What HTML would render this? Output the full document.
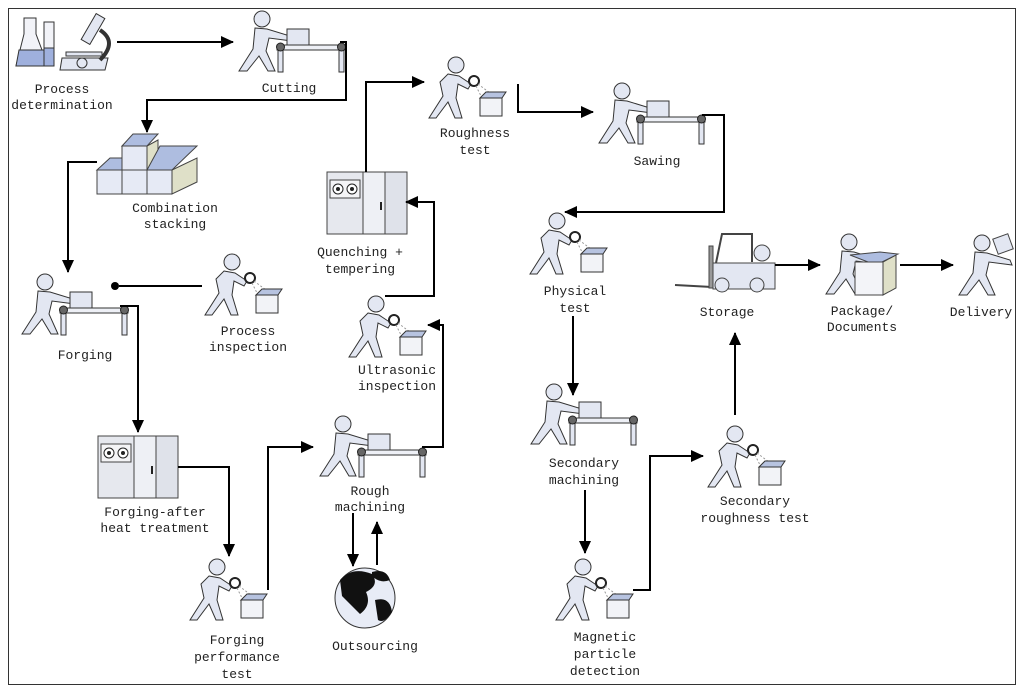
<!DOCTYPE html>
<html><head><meta charset="utf-8"><style>
html,body{margin:0;padding:0;background:#fff}
svg{display:block}
text{font-family:"Liberation Mono","Noto Serif CJK SC",monospace;font-size:13px;fill:#222;text-anchor:middle}
</style></head><body>
<svg width="1024" height="693" viewBox="0 0 1024 693" xmlns="http://www.w3.org/2000/svg">
<defs>
<marker id="a" markerWidth="13" markerHeight="12" refX="12" refY="6" orient="auto" markerUnits="userSpaceOnUse">
<path d="M0,0 L13,6 L0,12 z" fill="#000"/></marker>
<g id="person" fill="#e3e7f2" stroke="#333" stroke-width="1">
<circle cx="27" cy="8" r="8"/>
<polygon points="20,17 32,18 55,25 57,30 34,27 31,40 40,60 33,60 24,45 12,60 4,60 18,38"/>
</g>
<g id="mach">
<use href="#person"/>
<rect x="52" y="18" width="22" height="16" fill="#e3e7f2" stroke="#333"/>
<rect x="42" y="34" width="68" height="5" fill="#eef0f6" stroke="#333"/>
<rect x="43" y="38" width="5" height="23" fill="#e3e7f2" stroke="#333"/>
<rect x="104" y="38" width="5" height="23" fill="#e3e7f2" stroke="#333"/>
<circle cx="45.5" cy="36" r="4" fill="#666" stroke="#222"/>
<circle cx="106.5" cy="36" r="4" fill="#666" stroke="#222"/>
</g>
<g id="insp">
<circle cx="30" cy="9" r="8" fill="#e3e7f2" stroke="#333"/>
<polygon points="22,18 33,20 45,28 42,33 32,28 30,42 36,62 29,62 22,46 10,62 3,62 17,40 14,26" fill="#e3e7f2" stroke="#333"/>
<circle cx="48" cy="25" r="5" fill="#fff" stroke="#222" stroke-width="2"/>
<path d="M52,28 L68,40 M50,30 L56,42" stroke="#999" stroke-dasharray="2,2" fill="none"/>
<rect x="54" y="42" width="22" height="18" fill="#f2f3f7" stroke="#333"/>
<polygon points="54,42 60,36 80,36 76,42" fill="#b7c3e0" stroke="#333"/>
</g>
<g id="furn">
<rect x="0" y="0" width="80" height="62" fill="#e6e8ee" stroke="#444"/>
<rect x="3" y="8" width="30" height="18" fill="#f4f4f6" stroke="#444"/>
<circle cx="11" cy="17" r="5" fill="#fff" stroke="#222"/><circle cx="11" cy="17" r="2" fill="#222"/>
<circle cx="25" cy="17" r="5" fill="#fff" stroke="#222"/><circle cx="25" cy="17" r="2" fill="#222"/>
<rect x="36" y="0" width="22" height="62" fill="#eef0f5" stroke="#444"/>
<rect x="58" y="0" width="22" height="62" fill="#dfe2ea" stroke="#444"/>
<line x1="54" y1="30" x2="54" y2="38" stroke="#222" stroke-width="2"/>
</g>
</defs>

<rect x="8.5" y="8.5" width="1007" height="676" fill="none" stroke="#333"/>

<g stroke="#333" fill="#e3e7f2">
<path d="M24,18 L36,18 L36,34 L48,66 L16,66 L24,34 z" fill="#f2f3f8"/>
<path d="M19,50 L44,50 L48,66 L16,66 z" fill="#9fb0dd"/>
<rect x="44" y="22" width="10" height="44" fill="#f2f3f8"/>
<rect x="44" y="48" width="10" height="18" fill="#9fb0dd"/>
<polygon points="62,58 108,58 105,70 60,70" />
<rect x="66" y="52" width="36" height="4"/>
<circle cx="82" cy="63" r="5"/>
<path d="M100,60 Q118,42 100,30" fill="none" stroke-width="4"/>
<rect x="88" y="14" width="10" height="30" transform="rotate(30 93 29)"/>
</g>
<text x="62" y="93">Process</text><text x="62" y="109">determination</text>

<use href="#mach" x="235" y="11"/>
<text x="289" y="92">Cutting</text>

<g stroke="#444" fill="#e6eaf5">
<rect x="97" y="170" width="25" height="24"/><rect x="122" y="170" width="25" height="24"/><rect x="147" y="170" width="25" height="24"/>
<polygon points="172,170 197,158 197,182 172,194" fill="#dfe0c8"/>
<rect x="122" y="146" width="25" height="24"/>
<polygon points="147,146 158,140 158,164 147,170" fill="#dfe0c8"/>
<polygon points="122,146 133,134 158,134 147,146" fill="#aebde0"/>
<polygon points="97,170 110,158 122,158 122,170" fill="#aebde0"/>
<polygon points="147,170 160,146 197,146 172,170" fill="#aebde0"/>
</g>
<text x="175" y="212">Combination</text><text x="175" y="228">stacking</text>

<use href="#mach" x="18" y="274"/>
<text x="85" y="359">Forging</text>
<use href="#insp" x="202" y="253"/>
<text x="248" y="335">Process</text><text x="248" y="351">inspection</text>
<circle cx="115" cy="286" r="4" fill="#000"/>

<use href="#furn" x="98" y="436"/>
<text x="155" y="516">Forging-after</text><text x="155" y="532">heat treatment</text>

<use href="#insp" x="187" y="558"/>
<text x="237" y="644">Forging</text><text x="237" y="661">performance</text><text x="237" y="678">test</text>

<use href="#mach" x="316" y="416"/>
<text x="370" y="495">Rough</text><text x="370" y="511">machining</text>

<circle cx="365" cy="598" r="30" fill="#e8ecf6" stroke="#333"/>
<path d="M340,580 Q352,566 372,574 Q380,585 366,592 Q372,605 360,614 Q348,602 342,596 z M375,600 Q390,596 392,612 Q384,624 378,620 z M372,572 Q386,568 390,580 Q380,584 372,576z" fill="#111"/>
<text x="375" y="650">Outsourcing</text>

<use href="#insp" x="346" y="295"/>
<text x="397" y="374">Ultrasonic</text><text x="397" y="390">inspection</text>

<use href="#furn" x="327" y="172"/>
<text x="360" y="256">Quenching +</text><text x="360" y="273">tempering</text>

<use href="#insp" x="426" y="56"/>
<text x="475" y="137">Roughness</text><text x="475" y="154">test</text>

<use href="#mach" x="595" y="83"/>
<text x="657" y="165">Sawing</text>

<use href="#insp" x="527" y="212"/>
<text x="575" y="295">Physical</text><text x="575" y="312">test</text>

<use href="#mach" x="527" y="384"/>
<text x="584" y="467">Secondary</text><text x="584" y="484">machining</text>

<use href="#insp" x="553" y="558"/>
<text x="605" y="641">Magnetic</text><text x="605" y="658">particle</text><text x="605" y="675">detection</text>

<use href="#insp" x="705" y="425"/>
<text x="755" y="505">Secondary</text><text x="755" y="522">roughness test</text>

<g stroke="#444" fill="#e3e7f2">
<line x1="675" y1="285" x2="712" y2="287" stroke-width="2"/>
<rect x="709" y="246" width="4" height="42" fill="#999"/>
<path d="M716,263 L722,234 L752,234 L752,262" fill="none" stroke-width="2"/>
<rect x="713" y="263" width="62" height="26"/>
<circle cx="762" cy="253" r="8"/>
<circle cx="722" cy="285" r="7"/><circle cx="757" cy="285" r="7"/>
</g>
<text x="727" y="316">Storage</text>

<use href="#person" x="822" y="234"/>
<g stroke="#444">
<rect x="855" y="262" width="28" height="33" fill="#f3f4f8"/>
<polygon points="883,262 896,255 896,288 883,295" fill="#dfe0c8"/>
<polygon points="850,255 868,262 882,262 898,254 880,252" fill="#aebde0"/>
</g>
<text x="862" y="315">Package/</text><text x="862" y="331">Documents</text>

<use href="#person" x="955" y="235"/>
<rect x="995" y="236" width="16" height="16" fill="#e3e7f2" stroke="#444" transform="rotate(-20 1003 244)"/>
<text x="981" y="316">Delivery</text>

<g stroke="#000" stroke-width="2" fill="none">
<path d="M117,42 L233,42" marker-end="url(#a)"/>
<path d="M340,42 L346,42 L346,100 L147,100 L147,132" marker-end="url(#a)"/>
<path d="M97,162 L68,162 L68,272" marker-end="url(#a)"/>
<path d="M119,286 L202,286"/>
<path d="M120,306 L138,306 L138,432" marker-end="url(#a)"/>
<path d="M178,467 L229,467 L229,556" marker-end="url(#a)"/>
<path d="M268,590 L268,447 L313,447" marker-end="url(#a)"/>
<path d="M353,513 L353,566" marker-end="url(#a)"/>
<path d="M377,565 L377,522" marker-end="url(#a)"/>
<path d="M422,447 L443,447 L443,325 L428,325" marker-end="url(#a)"/>
<path d="M385,296 L434,296 L434,202 L406,202" marker-end="url(#a)"/>
<path d="M366,172 L366,82 L424,82" marker-end="url(#a)"/>
<path d="M518,84 L518,112 L593,112" marker-end="url(#a)"/>
<path d="M702,115 L724,115 L724,212 L565,212" marker-end="url(#a)"/>
<path d="M573,316 L573,395" marker-end="url(#a)"/>
<path d="M585,490 L585,553" marker-end="url(#a)"/>
<path d="M633,590 L650,590 L650,456 L703,456" marker-end="url(#a)"/>
<path d="M735,415 L735,333" marker-end="url(#a)"/>
<path d="M775,265 L820,265" marker-end="url(#a)"/>
<path d="M900,265 L953,265" marker-end="url(#a)"/>
</g>
</svg>
</body></html>
